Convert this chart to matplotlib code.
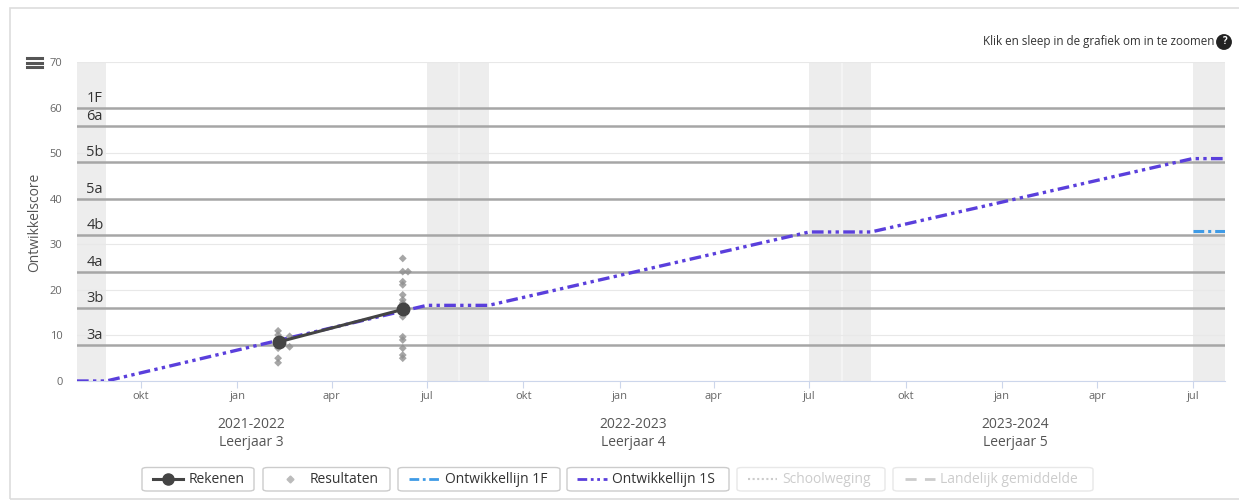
import matplotlib
matplotlib.use("Agg")
import matplotlib.pyplot as plt
import matplotlib.dates as mdates
from matplotlib.patches import FancyBboxPatch, Rectangle
from matplotlib.lines import Line2D
import datetime as dt

plt.rcParams['font.family'] = ['Open Sans', 'DejaVu Sans']

# ---------------- data ----------------
level_values = [8, 16, 24, 32, 40, 48, 56, 60]
level_labels = ['3a', '3b', '4a', '4b', '5a', '5b', '6a', '1F']

vacations = [("2021-08-01", "2021-08-29"), ("2022-07-01", "2022-08-29"),
             ("2023-07-01", "2023-08-29"), ("2024-07-01", "2024-08-01")]

s1_dates = ["2021-08-01", "2021-08-29", "2022-07-01", "2022-08-29",
            "2023-07-01", "2023-08-29", "2024-07-01", "2024-08-01"]
s1_values = [0, 0, 16.6, 16.6, 32.7, 32.7, 48.8, 48.8]

f1_dates = ["2024-07-01", "2024-08-01"]
f1_values = [33, 33]

rek_dates = ["2022-02-10", "2022-06-08"]
rek_values = [8.6, 15.7]

res_dates = ["2022-02-09"] * 6 + ["2022-02-20"] * 2 + ["2022-06-08"] * 13 + ["2022-06-13"]
res_values = [11.0, 10.1, 9.0, 7.2, 5.0, 4.0, 9.8, 7.5,
              26.9, 24.0, 21.8, 21.1, 18.9, 17.8, 17.1, 14.1, 9.7, 9.0, 7.2, 5.7, 5.0, 24.0]

month_ticks = ["2021-10-01", "2022-01-01", "2022-04-01", "2022-07-01",
               "2022-10-01", "2023-01-01", "2023-04-01", "2023-07-01",
               "2023-10-01", "2024-01-01", "2024-04-01", "2024-07-01"]
month_labels = ["okt", "jan", "apr", "jul"] * 3

year_labels = ["2021-2022\nLeerjaar 3", "2022-2023\nLeerjaar 4", "2023-2024\nLeerjaar 5"]
year_centers = ["2022-01-14", "2023-01-14", "2024-01-14"]

y_ticks = [0, 10, 20, 30, 40, 50, 60, 70]

legend_items = ["Rekenen", "Resultaten", "Ontwikkellijn 1F", "Ontwikkellijn 1S",
                "Schoolweging", "Landelijk gemiddelde"]

# ---------------- helpers ----------------
W, H = 1239, 500
def d(s):
    return mdates.date2num(dt.datetime.strptime(s, "%Y-%m-%d"))
def fx(x):
    return x / W
def fy(y):
    return 1 - y / H

fig = plt.figure(figsize=(W / 100, H / 100), dpi=100)
fig.patch.set_facecolor('white')

# card border
fig.add_artist(Rectangle((fx(10), fy(499)), 1.2, fy(8) - fy(499), transform=fig.transFigure,
                         fill=False, edgecolor='#dddddd', linewidth=1.2))

ax = fig.add_axes([fx(77), fy(381), fx(1225) - fx(77), fy(62) - fy(381)])
ax.set_xlim(d("2021-08-01"), d("2024-08-01"))
ax.set_ylim(0, 70)

# vacation bands
for a, b in vacations:
    ax.axvspan(d(a), d(b), color='#ededed', zorder=0, linewidth=0)
ax.axvline(d("2022-08-01"), color='#f6f6f6', linewidth=1.2, zorder=0.5)
ax.axvline(d("2023-08-01"), color='#f6f6f6', linewidth=1.2, zorder=0.5)

# grid
for v in y_ticks:
    ax.axhline(v, color='#e8e8e8', linewidth=0.8, zorder=1)

# level lines
for v, lab in zip(level_values, level_labels):
    ax.axhline(v, color='#a6a6a6', linewidth=1.8, zorder=2)
    ax.text(d("2021-08-10"), v + 0.4, lab, fontsize=10.5, color='#333333', ha='left',
            va='bottom', zorder=3)

# 1S line
ax.plot([d(s) for s in s1_dates], s1_values, color='#5a3fdc', linewidth=2.4,
        dashes=(3.5, 1.3, 1, 1.3, 1, 1.3), zorder=4)
# 1F line
ax.plot([d(s) for s in f1_dates], f1_values, color='#3f9be6', linewidth=2.2,
        dashes=(3.5, 1.3, 1, 1.3), zorder=4)

# results
ax.scatter([d(s) for s in res_dates], res_values, marker='D', s=16, color='#909090',
           alpha=0.8, edgecolors='none', zorder=5)
# rekenen
ax.plot([d(s) for s in rek_dates], rek_values, color='#444444', linewidth=2.2,
        marker='o', markersize=9, zorder=6)

for sp in ['top', 'right', 'left']:
    ax.spines[sp].set_visible(False)
ax.spines['bottom'].set_color('#ccd6eb')
ax.set_yticks(y_ticks)
ax.set_yticklabels([str(v) for v in y_ticks])
ax.tick_params(axis='y', length=0, labelsize=8, labelcolor='#666666', pad=10.5)
ax.set_xticks([d(s) for s in month_ticks])
ax.set_xticklabels(month_labels)
ax.tick_params(axis='x', length=5, color='#ccd6eb', labelsize=8, labelcolor='#666666', pad=2.5)

fig.text(fx(35), fy(222), "Ontwikkelscore", rotation=90, ha='center', va='center',
         fontsize=10, color='#555555')

for lab, c in zip(year_labels, year_centers):
    ax.text(d(c), -8.0, lab, ha='center', va='top', fontsize=10, color='#555555',
            linespacing=1.2, transform=ax.transData)

# hamburger
for yy in [58, 62.5, 67]:
    fig.add_artist(Line2D([fx(27), fx(42)], [fy(yy), fy(yy)], color='#555555',
                          linewidth=2.2, transform=fig.transFigure))

# zoom hint
fig.text(fx(1214), fy(42), "Klik en sleep in de grafiek om in te zoomen", ha='right',
         va='center', fontsize=8.4, color='#333333')
fig.text(fx(1224), fy(42), "?", ha='center', va='center', fontsize=7, color='white',
         fontweight='bold',
         bbox=dict(boxstyle='circle,pad=0.25', fc='#222222', ec='none'))

# legend
boxes = [(142, 254), (263, 390), (398, 560), (567, 729), (737, 885), (893, 1093)]
text_x = [189, 310, 445, 612, 782, 940]
sample = [(153, 183), (290, 290), (409, 440), (577, 607), (748, 777), (905, 935)]
by0, by1 = 467.5, 491
ymid = (by0 + by1) / 2
for i, ((x0, x1), tx, (s0, s1), lab) in enumerate(zip(boxes, text_x, sample, legend_items)):
    active = i < 4
    ec = '#cccccc' if active else '#e8e8e8'
    tc = '#333333' if active else '#cccccc'
    fig.add_artist(FancyBboxPatch((fx(x0), fy(by1)), fx(x1) - fx(x0), fy(by0) - fy(by1),
                                  boxstyle='round,pad=0,rounding_size=0.004',
                                  transform=fig.transFigure, fill=False, edgecolor=ec,
                                  linewidth=1))
    fig.text(fx(tx), fy(ymid), lab, ha='left', va='center', fontsize=10, color=tc)
    xs = [fx(s0), fx(s1)]
    ys = [fy(ymid), fy(ymid)]
    if i == 0:
        fig.add_artist(Line2D(xs, ys, color='#444444', linewidth=2.2, marker=None,
                              transform=fig.transFigure))
        fig.add_artist(Line2D([fx((s0 + s1) / 2)], [fy(ymid)], color='#444444', marker='o',
                              markersize=8, transform=fig.transFigure))
    elif i == 1:
        fig.add_artist(Line2D([fx(s0)], [fy(ymid)], color='#bbbbbb', marker='D',
                              markersize=3.5, linestyle='none', transform=fig.transFigure))
    elif i == 2:
        fig.add_artist(Line2D(xs, ys, color='#3f9be6', linewidth=2,
                              dashes=(3.5, 1.3, 1, 1.3), transform=fig.transFigure))
    elif i == 3:
        fig.add_artist(Line2D(xs, ys, color='#5a3fdc', linewidth=2,
                              dashes=(3.5, 1.3, 1, 1.3, 1, 1.3), transform=fig.transFigure))
    elif i == 4:
        fig.add_artist(Line2D(xs, ys, color='#cccccc', linewidth=1.5,
                              dashes=(1, 1.2), transform=fig.transFigure))
    else:
        fig.add_artist(Line2D(xs, ys, color='#cccccc', linewidth=2,
                              dashes=(4, 3), transform=fig.transFigure))

fig.savefig("out.png", dpi=100)
